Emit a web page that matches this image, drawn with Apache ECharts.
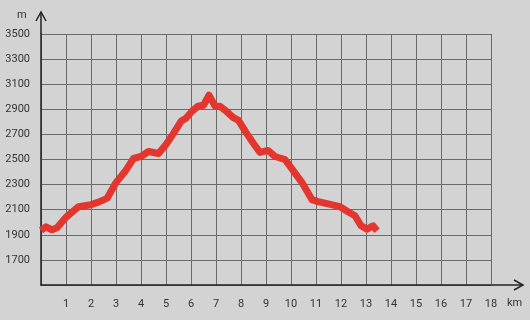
<!DOCTYPE html>
<html><head><meta charset="utf-8">
<script src="https://cdn.jsdelivr.net/npm/echarts@6/dist/echarts.min.js"></script>
<style>html,body{margin:0;padding:0;background:#d3d3d3;}#c{width:530px;height:320px;}</style>
</head><body><div id="c"></div>
<script>
var distKm = [0, 0.2, 0.44, 0.64, 1.0, 1.5, 2.0, 2.3, 2.64, 3.0, 3.36, 3.7, 4.0, 4.3, 4.7, 5.0, 5.3, 5.6, 5.8, 6.04, 6.28, 6.5, 6.72, 6.96, 7.16, 7.44, 7.68, 7.9, 8.2, 8.5, 8.76, 9.08, 9.36, 9.76, 10.0, 10.44, 10.84, 11.08, 11.44, 11.96, 12.28, 12.56, 12.8, 13.04, 13.28, 13.44];
var elevM = [1935, 1964, 1940, 1956, 2040, 2124, 2140, 2160, 2190, 2316, 2404, 2508, 2524, 2564, 2548, 2620, 2708, 2804, 2828, 2884, 2924, 2932, 3012, 2925, 2925, 2880, 2836, 2812, 2716, 2628, 2556, 2572, 2524, 2500, 2436, 2316, 2180, 2164, 2148, 2124, 2084, 2052, 1972, 1945, 1972, 1932];
var xTicks = [1,2,3,4,5,6,7,8,9,10,11,12,13,14,15,16,17,18];
var yTicks = [1700,1900,2100,2300,2500,2700,2900,3100,3300,3500];

var chart = echarts.init(document.getElementById('c'));
var font = 'Roboto';
chart.setOption({
  backgroundColor: '#d3d3d3',
  animation: false,
  grid: {left: 41, right: 39, top: 34, bottom: 35},
  xAxis: {
    type: 'value', min: 0, max: 18, interval: 1,
    axisLine: {show: true, lineStyle: {color: '#222', width: 1.5}},
    axisTick: {show: false},
    splitLine: {show: true, lineStyle: {color: '#6a6a6a', width: 1}},
    axisLabel: {color: '#333', fontSize: 11, fontFamily: font, margin: 14,
      formatter: function(v){ return xTicks.indexOf(v) >= 0 ? String(v) : ''; }}
  },
  yAxis: {
    type: 'value', min: 1500, max: 3500, interval: 200,
    axisLine: {show: true, lineStyle: {color: '#222', width: 1.5}},
    axisTick: {show: false},
    splitLine: {show: true, lineStyle: {color: '#6a6a6a', width: 1}},
    axisLabel: {color: '#333', fontSize: 11, fontFamily: font, margin: 11,
      formatter: function(v){ return yTicks.indexOf(v) >= 0 ? String(v) : ''; }}
  },
  series: [{
    type: 'line', showSymbol: false, smooth: false,
    data: distKm.map(function(d, i){ return [d, elevM[i]]; }),
    lineStyle: {color: '#e2362e', width: 7, join: 'round', cap: 'butt'},
    z: 5
  }],
  graphic: [
    {type: 'line', shape: {x1: 491, y1: 285, x2: 523, y2: 285}, style: {stroke: '#222', lineWidth: 1.5}},
    {type: 'polyline', shape: {points: [[514, 280], [523, 285], [514, 290]]}, style: {stroke: '#222', lineWidth: 1.5, fill: null}},
    {type: 'line', shape: {x1: 41, y1: 34, x2: 41, y2: 12}, style: {stroke: '#222', lineWidth: 1.5}},
    {type: 'polyline', shape: {points: [[36, 21], [41, 12], [46, 21]]}, style: {stroke: '#222', lineWidth: 1.5, fill: null}},
    {type: 'text', left: 17, top: 10, style: {text: 'm', fill: '#333', font: '11px Roboto'}},
    {type: 'text', left: 507, top: 298, style: {text: 'km', fill: '#333', font: '11px Roboto'}}
  ]
});
</script></body></html>
